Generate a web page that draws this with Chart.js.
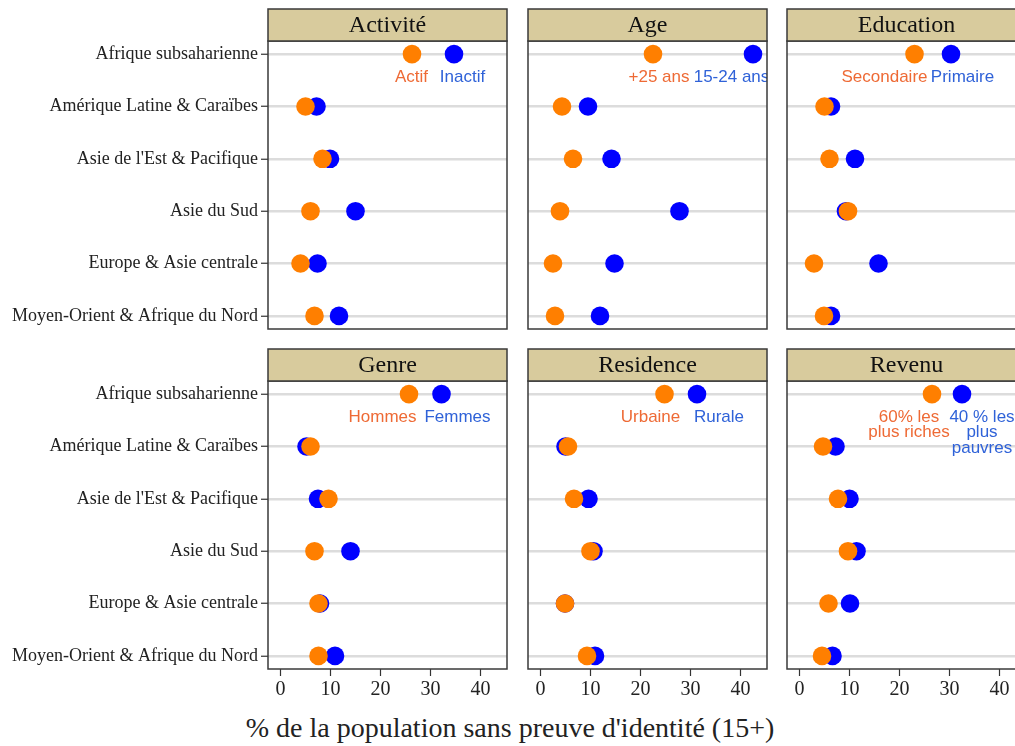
<!DOCTYPE html>
<html><head><meta charset="utf-8">
<script src="https://cdn.jsdelivr.net/npm/chart.js@4.4.1/dist/chart.umd.min.js"></script>
<style>
html,body{margin:0;padding:0;background:#fff;overflow:hidden;width:1015px;height:746px;position:relative;}
canvas{position:absolute;}
#xtitle{position:absolute;left:0;width:1020px;top:712px;text-align:center;font-family:"Liberation Serif",serif;font-size:28px;color:#222;white-space:nowrap;}
</style></head><body>
<canvas id="c0"></canvas><canvas id="c1"></canvas><canvas id="c2"></canvas>
<canvas id="c3"></canvas><canvas id="c4"></canvas><canvas id="c5"></canvas>
<div id="xtitle">% de la population sans preuve d'identité (15+)</div>
<script>
// ---- data ----
const regions = ["Afrique subsaharienne","Amérique Latine & Caraïbes","Asie de l'Est & Pacifique","Asie du Sud","Europe & Asie centrale","Moyen-Orient & Afrique du Nord"];
const panelTitles = ["Activité","Age","Education","Genre","Residence","Revenu"];
const xTicks = [0,10,20,30,40];

const actif      = [26.3, 5.0, 8.4, 6.0, 4.0, 6.8];
const inactif    = [34.7, 7.2, 9.9, 15.0, 7.4, 11.7];
const plus25     = [22.5, 4.3, 6.5, 3.9, 2.5, 2.9];
const age1524    = [42.5, 9.5, 14.2, 27.8, 14.8, 11.9];
const secondaire = [23.0, 5.0, 6.0, 9.7, 2.9, 4.9];
const primaire   = [30.3, 6.3, 11.1, 9.3, 15.8, 6.3];
const hommes     = [25.7, 6.0, 9.6, 6.8, 7.6, 7.6];
const femmes     = [32.2, 5.2, 7.5, 14.0, 7.9, 10.9];
const urbaine    = [24.8, 5.5, 6.7, 10.0, 4.9, 9.3];
const rurale     = [31.3, 5.0, 9.6, 10.6, 4.9, 10.9];
const riches60   = [26.5, 4.7, 7.7, 9.7, 5.8, 4.5];
const pauvres40  = [32.5, 7.2, 10.0, 11.4, 10.1, 6.6];

const orangeSeries = [actif, plus25, secondaire, hommes, urbaine, riches60];
const blueSeries   = [inactif, age1524, primaire, femmes, rurale, pauvres40];
const orangeLabels = [["Actif"],["+25 ans"],["Secondaire"],["Hommes"],["Urbaine"],["60% les","plus riches"]];
const blueLabels   = [["Inactif"],["15-24 ans"],["Primaire"],["Femmes"],["Rurale"],["40 % les","plus","pauvres"]];
// label anchor x (in % units) for each panel
const orangeLabelX = [26.2, 23.7, 17.0, 20.4, 22.0, 21.9];
const blueLabelX   = [36.4, 38.2, 32.6, 35.4, 35.7, 36.5];

// ---- layout ----
const ORANGE = '#FF7F00', BLUE = '#0000FF';
const ORANGE_TXT = '#EE6A35', BLUE_TXT = '#2F62D8';
const colLeft = [268, 528, 787];
const rowTop = [41, 381];
const PW = 239, PH = 288, HDR = 32;
const XMIN = -2.5, XMAX = XMIN + PW / 5;

const panelPlugin = {
  id: 'panel',
  afterDraw(chart) {
    const idx = chart.options.plugins.panel.idx;
    const {ctx, chartArea: a} = chart;
    const xs = chart.scales.x, ys = chart.scales.y;
    ctx.save();
    ctx.beginPath(); ctx.rect(a.left, a.top, a.right - a.left, a.bottom - a.top); ctx.clip();
    ctx.font = '17px "Liberation Sans", Arial, sans-serif';
    ctx.textAlign = 'center'; ctx.textBaseline = 'middle';
    const y0 = ys.getPixelForValue(0) + 23;
    ctx.fillStyle = ORANGE_TXT;
    orangeLabels[idx].forEach((t, k) => ctx.fillText(t, xs.getPixelForValue(orangeLabelX[idx]), y0 + k * 15.5));
    ctx.fillStyle = BLUE_TXT;
    blueLabels[idx].forEach((t, k) => ctx.fillText(t, xs.getPixelForValue(blueLabelX[idx]), y0 + k * 15.5));
    ctx.restore();
    ctx.save();
    ctx.strokeStyle = '#3a3a3a'; ctx.lineWidth = 1.5;
    ctx.strokeRect(a.left, a.top, a.right - a.left, a.bottom - a.top);
    ctx.fillStyle = '#D8CB9D';
    ctx.fillRect(a.left, a.top - HDR, a.right - a.left, HDR);
    ctx.strokeRect(a.left, a.top - HDR, a.right - a.left, HDR);
    ctx.fillStyle = '#111';
    ctx.font = '24px "Liberation Serif", serif';
    ctx.textAlign = 'center'; ctx.textBaseline = 'middle';
    ctx.fillText(panelTitles[idx], (a.left + a.right) / 2, a.top - HDR / 2 + 1);
    ctx.restore();
  }
};

function makeChart(idx) {
  const col = idx % 3, row = Math.floor(idx / 3);
  const cv = document.getElementById('c' + idx);
  const padL = col === 0 ? 0 : 4;
  const padT = HDR + 2;
  const yW = col === 0 ? 268 : 0;
  const xH = row === 1 ? 40 : 0;
  const padB = row === 1 ? 3 : 16, padR = 4;
  const W = padL + yW + PW + padR;
  const H = padT + PH + xH + padB;
  cv.width = W; cv.height = H;
  cv.style.left = (colLeft[col] - yW - padL) + 'px';
  cv.style.top = (rowTop[row] - padT) + 'px';
  cv.style.width = W + 'px'; cv.style.height = H + 'px';

  const toPts = arr => arr.map((v, i) => ({x: v, y: i}));
  new Chart(cv, {
    type: 'scatter',
    data: {
      datasets: [
        {label: orangeLabels[idx].join(' '), data: toPts(orangeSeries[idx]), backgroundColor: ORANGE, borderWidth: 0, pointRadius: 9.3, pointHoverRadius: 9.3},
        {label: blueLabels[idx].join(' '), data: toPts(blueSeries[idx]), backgroundColor: BLUE, borderWidth: 0, pointRadius: 9.3, pointHoverRadius: 9.3}
      ]
    },
    options: {
      responsive: false, animation: false, events: [],
      layout: {autoPadding: false, padding: {left: padL, right: padR, top: padT, bottom: padB}},
      plugins: {legend: {display: false}, tooltip: {enabled: false}, panel: {idx}},
      scales: {
        x: {
          type: 'linear', min: XMIN, max: XMAX, display: row === 1,
          afterBuildTicks: s => { s.ticks = xTicks.map(v => ({value: v})); },
          afterFit: s => { s.height = xH; s.paddingLeft = 0; s.paddingRight = 0; },
          border: {display: false},
          grid: {drawOnChartArea: false, drawTicks: true, tickLength: 7, tickColor: '#333', tickWidth: 1.2},
          ticks: {color: '#222', padding: 2, font: {family: '"Liberation Serif", serif', size: 20}, maxRotation: 0}
        },
        y: {
          type: 'linear', min: -0.25, max: 5.25, reverse: true,
          afterBuildTicks: s => { s.ticks = regions.map((r, i) => ({value: i})); },
          afterFit: s => { s.width = yW; s.paddingTop = 0; s.paddingBottom = 0; },
          border: {display: false},
          grid: {color: '#DCDCDC', lineWidth: 2.5, drawTicks: col === 0, tickLength: 7, tickColor: '#333', tickWidth: 1.2},
          ticks: {display: col === 0, color: '#222', padding: 3, font: {family: '"Liberation Serif", serif', size: 18},
                  callback: v => regions[v]}
        }
      }
    },
    plugins: [panelPlugin]
  });
}
for (let i = 0; i < 6; i++) makeChart(i);
</script>
</body></html>
